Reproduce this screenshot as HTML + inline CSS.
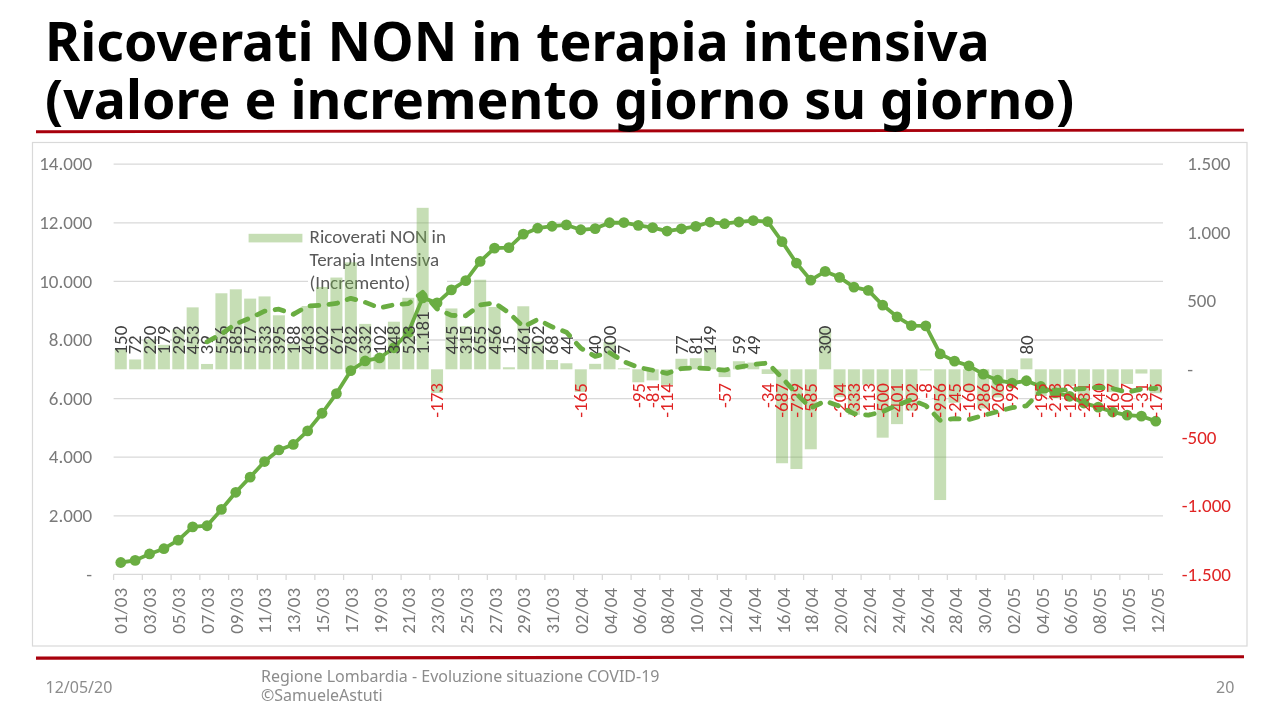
<!DOCTYPE html>
<html><head><meta charset="utf-8"><title>Ricoverati NON in terapia intensiva</title>
<style>
html,body{margin:0;padding:0;background:#fff}
svg text{font-variant-ligatures:none;font-feature-settings:'liga' 0}
#s{position:relative;width:1280px;height:720px;overflow:hidden;background:#fff}
h1{position:absolute;left:45px;top:12.3px;margin:0;font:bold 53.7px/57.9px 'Noto Sans','Open Sans','Liberation Sans',sans-serif;color:#000;white-space:nowrap;letter-spacing:0}
.f{position:absolute;font-family:'Noto Sans','Open Sans','Liberation Sans',sans-serif;font-size:16px;color:#8c8c8c;white-space:nowrap}
</style></head><body><div id="s">
<svg width="1280" height="720" viewBox="0 0 1280 720" style="position:absolute;left:0;top:0;will-change:transform">
<rect x="32.5" y="142.5" width="1214.5" height="503.5" fill="#fff" stroke="#d9d9d9" stroke-width="1.2"/>
<line x1="113.6" y1="515.8" x2="1163.0" y2="515.8" stroke="#d9d9d9" stroke-width="1.3"/>
<line x1="113.6" y1="457.2" x2="1163.0" y2="457.2" stroke="#d9d9d9" stroke-width="1.3"/>
<line x1="113.6" y1="398.6" x2="1163.0" y2="398.6" stroke="#d9d9d9" stroke-width="1.3"/>
<line x1="113.6" y1="340.0" x2="1163.0" y2="340.0" stroke="#d9d9d9" stroke-width="1.3"/>
<line x1="113.6" y1="281.4" x2="1163.0" y2="281.4" stroke="#d9d9d9" stroke-width="1.3"/>
<line x1="113.6" y1="222.8" x2="1163.0" y2="222.8" stroke="#d9d9d9" stroke-width="1.3"/>
<line x1="113.6" y1="164.2" x2="1163.0" y2="164.2" stroke="#d9d9d9" stroke-width="1.3"/>
<line x1="113.6" y1="574.4" x2="1163.0" y2="574.4" stroke="#d9d9d9" stroke-width="1.3"/>
<line x1="113.60" y1="574.4" x2="113.60" y2="580.0" stroke="#d9d9d9" stroke-width="1.3"/>
<line x1="142.35" y1="574.4" x2="142.35" y2="580.0" stroke="#d9d9d9" stroke-width="1.3"/>
<line x1="171.10" y1="574.4" x2="171.10" y2="580.0" stroke="#d9d9d9" stroke-width="1.3"/>
<line x1="199.85" y1="574.4" x2="199.85" y2="580.0" stroke="#d9d9d9" stroke-width="1.3"/>
<line x1="228.60" y1="574.4" x2="228.60" y2="580.0" stroke="#d9d9d9" stroke-width="1.3"/>
<line x1="257.35" y1="574.4" x2="257.35" y2="580.0" stroke="#d9d9d9" stroke-width="1.3"/>
<line x1="286.10" y1="574.4" x2="286.10" y2="580.0" stroke="#d9d9d9" stroke-width="1.3"/>
<line x1="314.85" y1="574.4" x2="314.85" y2="580.0" stroke="#d9d9d9" stroke-width="1.3"/>
<line x1="343.60" y1="574.4" x2="343.60" y2="580.0" stroke="#d9d9d9" stroke-width="1.3"/>
<line x1="372.35" y1="574.4" x2="372.35" y2="580.0" stroke="#d9d9d9" stroke-width="1.3"/>
<line x1="401.10" y1="574.4" x2="401.10" y2="580.0" stroke="#d9d9d9" stroke-width="1.3"/>
<line x1="429.85" y1="574.4" x2="429.85" y2="580.0" stroke="#d9d9d9" stroke-width="1.3"/>
<line x1="458.60" y1="574.4" x2="458.60" y2="580.0" stroke="#d9d9d9" stroke-width="1.3"/>
<line x1="487.35" y1="574.4" x2="487.35" y2="580.0" stroke="#d9d9d9" stroke-width="1.3"/>
<line x1="516.10" y1="574.4" x2="516.10" y2="580.0" stroke="#d9d9d9" stroke-width="1.3"/>
<line x1="544.85" y1="574.4" x2="544.85" y2="580.0" stroke="#d9d9d9" stroke-width="1.3"/>
<line x1="573.60" y1="574.4" x2="573.60" y2="580.0" stroke="#d9d9d9" stroke-width="1.3"/>
<line x1="602.35" y1="574.4" x2="602.35" y2="580.0" stroke="#d9d9d9" stroke-width="1.3"/>
<line x1="631.10" y1="574.4" x2="631.10" y2="580.0" stroke="#d9d9d9" stroke-width="1.3"/>
<line x1="659.85" y1="574.4" x2="659.85" y2="580.0" stroke="#d9d9d9" stroke-width="1.3"/>
<line x1="688.60" y1="574.4" x2="688.60" y2="580.0" stroke="#d9d9d9" stroke-width="1.3"/>
<line x1="717.35" y1="574.4" x2="717.35" y2="580.0" stroke="#d9d9d9" stroke-width="1.3"/>
<line x1="746.10" y1="574.4" x2="746.10" y2="580.0" stroke="#d9d9d9" stroke-width="1.3"/>
<line x1="774.85" y1="574.4" x2="774.85" y2="580.0" stroke="#d9d9d9" stroke-width="1.3"/>
<line x1="803.60" y1="574.4" x2="803.60" y2="580.0" stroke="#d9d9d9" stroke-width="1.3"/>
<line x1="832.35" y1="574.4" x2="832.35" y2="580.0" stroke="#d9d9d9" stroke-width="1.3"/>
<line x1="861.10" y1="574.4" x2="861.10" y2="580.0" stroke="#d9d9d9" stroke-width="1.3"/>
<line x1="889.85" y1="574.4" x2="889.85" y2="580.0" stroke="#d9d9d9" stroke-width="1.3"/>
<line x1="918.60" y1="574.4" x2="918.60" y2="580.0" stroke="#d9d9d9" stroke-width="1.3"/>
<line x1="947.35" y1="574.4" x2="947.35" y2="580.0" stroke="#d9d9d9" stroke-width="1.3"/>
<line x1="976.10" y1="574.4" x2="976.10" y2="580.0" stroke="#d9d9d9" stroke-width="1.3"/>
<line x1="1004.85" y1="574.4" x2="1004.85" y2="580.0" stroke="#d9d9d9" stroke-width="1.3"/>
<line x1="1033.60" y1="574.4" x2="1033.60" y2="580.0" stroke="#d9d9d9" stroke-width="1.3"/>
<line x1="1062.35" y1="574.4" x2="1062.35" y2="580.0" stroke="#d9d9d9" stroke-width="1.3"/>
<line x1="1091.10" y1="574.4" x2="1091.10" y2="580.0" stroke="#d9d9d9" stroke-width="1.3"/>
<line x1="1119.85" y1="574.4" x2="1119.85" y2="580.0" stroke="#d9d9d9" stroke-width="1.3"/>
<line x1="1148.60" y1="574.4" x2="1148.60" y2="580.0" stroke="#d9d9d9" stroke-width="1.3"/>
<rect x="308" y="229" width="139" height="65" fill="#fff"/>
<g font-family="Carlito, 'Liberation Sans', sans-serif" font-size="19" fill="#595959" letter-spacing="0">
<text x="309.6" y="243.2">Ricoverati NON in</text>
<text x="309.6" y="266">Terapia Intensiva</text>
<text x="309.6" y="288.7">(Incremento)</text>
</g>
<g fill="#fff">
<rect x="114.79" y="325.20" width="12" height="30.40"/>
<rect x="129.16" y="334.83" width="12" height="20.77"/>
<rect x="143.54" y="325.20" width="12" height="30.40"/>
<rect x="157.91" y="325.20" width="12" height="30.40"/>
<rect x="172.29" y="325.20" width="12" height="30.40"/>
<rect x="186.66" y="325.20" width="12" height="30.40"/>
<rect x="201.04" y="334.83" width="12" height="20.77"/>
<rect x="215.41" y="325.20" width="12" height="30.40"/>
<rect x="229.79" y="325.20" width="12" height="30.40"/>
<rect x="244.16" y="325.20" width="12" height="30.40"/>
<rect x="258.54" y="325.20" width="12" height="30.40"/>
<rect x="272.91" y="325.20" width="12" height="30.40"/>
<rect x="287.29" y="325.20" width="12" height="30.40"/>
<rect x="301.66" y="325.20" width="12" height="30.40"/>
<rect x="316.04" y="325.20" width="12" height="30.40"/>
<rect x="330.41" y="325.20" width="12" height="30.40"/>
<rect x="344.79" y="325.20" width="12" height="30.40"/>
<rect x="359.16" y="325.20" width="12" height="30.40"/>
<rect x="373.54" y="325.20" width="12" height="30.40"/>
<rect x="387.91" y="325.20" width="12" height="30.40"/>
<rect x="402.29" y="325.20" width="12" height="30.40"/>
<rect x="416.66" y="310.78" width="12" height="44.82"/>
<rect x="431.04" y="382.00" width="12" height="36.21"/>
<rect x="445.41" y="325.20" width="12" height="30.40"/>
<rect x="459.79" y="325.20" width="12" height="30.40"/>
<rect x="474.16" y="325.20" width="12" height="30.40"/>
<rect x="488.54" y="325.20" width="12" height="30.40"/>
<rect x="502.91" y="334.83" width="12" height="20.77"/>
<rect x="517.29" y="325.20" width="12" height="30.40"/>
<rect x="531.66" y="325.20" width="12" height="30.40"/>
<rect x="546.04" y="334.83" width="12" height="20.77"/>
<rect x="560.41" y="334.83" width="12" height="20.77"/>
<rect x="574.79" y="382.00" width="12" height="36.21"/>
<rect x="589.16" y="334.83" width="12" height="20.77"/>
<rect x="603.54" y="325.20" width="12" height="30.40"/>
<rect x="617.91" y="344.47" width="12" height="11.13"/>
<rect x="632.29" y="382.00" width="12" height="26.58"/>
<rect x="646.66" y="382.00" width="12" height="26.58"/>
<rect x="661.04" y="382.00" width="12" height="36.21"/>
<rect x="675.41" y="334.83" width="12" height="20.77"/>
<rect x="689.79" y="334.83" width="12" height="20.77"/>
<rect x="704.16" y="325.20" width="12" height="30.40"/>
<rect x="718.54" y="382.00" width="12" height="26.58"/>
<rect x="732.91" y="334.83" width="12" height="20.77"/>
<rect x="747.29" y="334.83" width="12" height="20.77"/>
<rect x="761.66" y="382.00" width="12" height="26.58"/>
<rect x="776.04" y="382.00" width="12" height="36.21"/>
<rect x="790.41" y="382.00" width="12" height="36.21"/>
<rect x="804.79" y="382.00" width="12" height="36.21"/>
<rect x="819.16" y="325.20" width="12" height="30.40"/>
<rect x="833.54" y="382.00" width="12" height="36.21"/>
<rect x="847.91" y="382.00" width="12" height="36.21"/>
<rect x="862.29" y="382.00" width="12" height="36.21"/>
<rect x="876.66" y="382.00" width="12" height="36.21"/>
<rect x="891.04" y="382.00" width="12" height="36.21"/>
<rect x="905.41" y="382.00" width="12" height="36.21"/>
<rect x="919.79" y="382.00" width="12" height="16.95"/>
<rect x="934.16" y="382.00" width="12" height="36.21"/>
<rect x="948.54" y="382.00" width="12" height="36.21"/>
<rect x="962.91" y="382.00" width="12" height="36.21"/>
<rect x="977.29" y="382.00" width="12" height="36.21"/>
<rect x="991.66" y="382.00" width="12" height="36.21"/>
<rect x="1006.04" y="382.00" width="12" height="26.58"/>
<rect x="1020.41" y="334.83" width="12" height="20.77"/>
<rect x="1034.79" y="382.00" width="12" height="36.21"/>
<rect x="1049.16" y="382.00" width="12" height="36.21"/>
<rect x="1063.54" y="382.00" width="12" height="36.21"/>
<rect x="1077.91" y="382.00" width="12" height="36.21"/>
<rect x="1092.29" y="382.00" width="12" height="36.21"/>
<rect x="1106.66" y="382.00" width="12" height="36.21"/>
<rect x="1121.04" y="382.00" width="12" height="36.21"/>
<rect x="1135.41" y="382.00" width="12" height="26.58"/>
<rect x="1149.79" y="382.00" width="12" height="36.21"/>
</g>
<g fill="#70ad47" fill-opacity="0.4">
<rect x="248.6" y="233.8" width="53.8" height="8.6"/>
<rect x="114.79" y="348.79" width="12.0" height="20.51"/>
<rect x="129.16" y="359.46" width="12.0" height="9.84"/>
<rect x="143.54" y="339.22" width="12.0" height="30.08"/>
<rect x="157.91" y="344.82" width="12.0" height="24.48"/>
<rect x="172.29" y="329.37" width="12.0" height="39.93"/>
<rect x="186.66" y="307.36" width="12.0" height="61.94"/>
<rect x="201.04" y="363.97" width="12.0" height="5.33"/>
<rect x="215.41" y="293.28" width="12.0" height="76.02"/>
<rect x="229.79" y="289.31" width="12.0" height="79.99"/>
<rect x="244.16" y="298.61" width="12.0" height="70.69"/>
<rect x="258.54" y="296.42" width="12.0" height="72.88"/>
<rect x="272.91" y="315.29" width="12.0" height="54.01"/>
<rect x="287.29" y="343.59" width="12.0" height="25.71"/>
<rect x="301.66" y="305.99" width="12.0" height="63.31"/>
<rect x="316.04" y="286.99" width="12.0" height="82.31"/>
<rect x="330.41" y="277.55" width="12.0" height="91.75"/>
<rect x="344.79" y="262.37" width="12.0" height="106.93"/>
<rect x="359.16" y="323.90" width="12.0" height="45.40"/>
<rect x="373.54" y="355.35" width="12.0" height="13.95"/>
<rect x="387.91" y="321.72" width="12.0" height="47.58"/>
<rect x="402.29" y="297.79" width="12.0" height="71.51"/>
<rect x="416.66" y="207.82" width="12.0" height="161.48"/>
<rect x="431.04" y="369.30" width="12.0" height="23.65"/>
<rect x="445.41" y="308.45" width="12.0" height="60.85"/>
<rect x="459.79" y="326.23" width="12.0" height="43.07"/>
<rect x="474.16" y="279.74" width="12.0" height="89.56"/>
<rect x="488.54" y="306.95" width="12.0" height="62.35"/>
<rect x="502.91" y="367.25" width="12.0" height="2.05"/>
<rect x="517.29" y="306.27" width="12.0" height="63.03"/>
<rect x="531.66" y="341.68" width="12.0" height="27.62"/>
<rect x="546.04" y="360.00" width="12.0" height="9.30"/>
<rect x="560.41" y="363.28" width="12.0" height="6.02"/>
<rect x="574.79" y="369.30" width="12.0" height="22.56"/>
<rect x="589.16" y="363.83" width="12.0" height="5.47"/>
<rect x="603.54" y="341.95" width="12.0" height="27.35"/>
<rect x="617.91" y="368.34" width="12.0" height="0.96"/>
<rect x="632.29" y="369.30" width="12.0" height="12.99"/>
<rect x="646.66" y="369.30" width="12.0" height="11.08"/>
<rect x="661.04" y="369.30" width="12.0" height="15.59"/>
<rect x="675.41" y="358.77" width="12.0" height="10.53"/>
<rect x="689.79" y="358.22" width="12.0" height="11.08"/>
<rect x="704.16" y="348.93" width="12.0" height="20.37"/>
<rect x="718.54" y="369.30" width="12.0" height="7.79"/>
<rect x="732.91" y="361.23" width="12.0" height="8.07"/>
<rect x="747.29" y="362.60" width="12.0" height="6.70"/>
<rect x="761.66" y="369.30" width="12.0" height="4.65"/>
<rect x="776.04" y="369.30" width="12.0" height="93.94"/>
<rect x="790.41" y="369.30" width="12.0" height="99.68"/>
<rect x="804.79" y="369.30" width="12.0" height="79.99"/>
<rect x="819.16" y="328.28" width="12.0" height="41.02"/>
<rect x="833.54" y="369.30" width="12.0" height="27.89"/>
<rect x="847.91" y="369.30" width="12.0" height="45.53"/>
<rect x="862.29" y="369.30" width="12.0" height="15.45"/>
<rect x="876.66" y="369.30" width="12.0" height="68.37"/>
<rect x="891.04" y="369.30" width="12.0" height="54.83"/>
<rect x="905.41" y="369.30" width="12.0" height="41.29"/>
<rect x="919.79" y="369.30" width="12.0" height="1.09"/>
<rect x="934.16" y="369.30" width="12.0" height="130.72"/>
<rect x="948.54" y="369.30" width="12.0" height="33.50"/>
<rect x="962.91" y="369.30" width="12.0" height="21.88"/>
<rect x="977.29" y="369.30" width="12.0" height="39.11"/>
<rect x="991.66" y="369.30" width="12.0" height="28.17"/>
<rect x="1006.04" y="369.30" width="12.0" height="13.54"/>
<rect x="1020.41" y="358.36" width="12.0" height="10.94"/>
<rect x="1034.79" y="369.30" width="12.0" height="26.66"/>
<rect x="1049.16" y="369.30" width="12.0" height="29.12"/>
<rect x="1063.54" y="369.30" width="12.0" height="16.68"/>
<rect x="1077.91" y="369.30" width="12.0" height="31.59"/>
<rect x="1092.29" y="369.30" width="12.0" height="19.14"/>
<rect x="1106.66" y="369.30" width="12.0" height="22.83"/>
<rect x="1121.04" y="369.30" width="12.0" height="14.63"/>
<rect x="1135.41" y="369.30" width="12.0" height="4.24"/>
<rect x="1149.79" y="369.30" width="12.0" height="23.93"/>
</g>
<g opacity="1.0" fill="#6aad42">
<polyline points="120.79,562.50 135.16,560.39 149.54,553.95 163.91,548.70 178.29,540.15 192.66,526.88 207.04,525.73 221.41,509.44 235.79,492.30 250.16,477.15 264.54,461.54 278.91,449.96 293.29,444.45 307.66,430.89 322.04,413.25 336.41,393.59 350.79,370.68 365.16,360.95 379.54,357.96 393.91,347.76 408.29,332.44 422.66,297.84 437.04,302.91 451.41,289.87 465.79,280.64 480.16,261.45 494.54,248.09 508.91,247.65 523.29,234.14 537.66,228.22 552.04,226.23 566.41,224.94 580.79,229.77 595.16,228.60 609.54,222.74 623.91,222.54 638.29,225.32 652.66,227.69 667.04,231.03 681.41,228.78 695.79,226.40 710.16,222.04 724.54,223.71 738.91,221.98 753.29,220.54 767.66,221.54 782.04,241.67 796.41,263.03 810.79,280.17 825.16,271.38 839.54,277.36 853.91,287.11 868.29,290.42 882.66,305.07 897.04,316.82 911.41,325.67 925.79,325.91 940.16,353.92 954.54,361.10 968.91,365.78 983.29,374.16 997.66,380.20 1012.04,383.10 1026.41,380.76 1040.79,386.47 1055.16,392.71 1069.54,396.29 1083.91,403.05 1098.29,407.16 1112.66,412.05 1127.04,415.18 1141.41,416.09 1155.79,421.22" fill="none" stroke="#6aad42" stroke-width="3.8" stroke-linejoin="round"/>
<circle cx="120.79" cy="562.50" r="5.4"/>
<circle cx="135.16" cy="560.39" r="5.4"/>
<circle cx="149.54" cy="553.95" r="5.4"/>
<circle cx="163.91" cy="548.70" r="5.4"/>
<circle cx="178.29" cy="540.15" r="5.4"/>
<circle cx="192.66" cy="526.88" r="5.4"/>
<circle cx="207.04" cy="525.73" r="5.4"/>
<circle cx="221.41" cy="509.44" r="5.4"/>
<circle cx="235.79" cy="492.30" r="5.4"/>
<circle cx="250.16" cy="477.15" r="5.4"/>
<circle cx="264.54" cy="461.54" r="5.4"/>
<circle cx="278.91" cy="449.96" r="5.4"/>
<circle cx="293.29" cy="444.45" r="5.4"/>
<circle cx="307.66" cy="430.89" r="5.4"/>
<circle cx="322.04" cy="413.25" r="5.4"/>
<circle cx="336.41" cy="393.59" r="5.4"/>
<circle cx="350.79" cy="370.68" r="5.4"/>
<circle cx="365.16" cy="360.95" r="5.4"/>
<circle cx="379.54" cy="357.96" r="5.4"/>
<circle cx="393.91" cy="347.76" r="5.4"/>
<circle cx="408.29" cy="332.44" r="5.4"/>
<circle cx="422.66" cy="297.84" r="5.4"/>
<circle cx="437.04" cy="302.91" r="5.4"/>
<circle cx="451.41" cy="289.87" r="5.4"/>
<circle cx="465.79" cy="280.64" r="5.4"/>
<circle cx="480.16" cy="261.45" r="5.4"/>
<circle cx="494.54" cy="248.09" r="5.4"/>
<circle cx="508.91" cy="247.65" r="5.4"/>
<circle cx="523.29" cy="234.14" r="5.4"/>
<circle cx="537.66" cy="228.22" r="5.4"/>
<circle cx="552.04" cy="226.23" r="5.4"/>
<circle cx="566.41" cy="224.94" r="5.4"/>
<circle cx="580.79" cy="229.77" r="5.4"/>
<circle cx="595.16" cy="228.60" r="5.4"/>
<circle cx="609.54" cy="222.74" r="5.4"/>
<circle cx="623.91" cy="222.54" r="5.4"/>
<circle cx="638.29" cy="225.32" r="5.4"/>
<circle cx="652.66" cy="227.69" r="5.4"/>
<circle cx="667.04" cy="231.03" r="5.4"/>
<circle cx="681.41" cy="228.78" r="5.4"/>
<circle cx="695.79" cy="226.40" r="5.4"/>
<circle cx="710.16" cy="222.04" r="5.4"/>
<circle cx="724.54" cy="223.71" r="5.4"/>
<circle cx="738.91" cy="221.98" r="5.4"/>
<circle cx="753.29" cy="220.54" r="5.4"/>
<circle cx="767.66" cy="221.54" r="5.4"/>
<circle cx="782.04" cy="241.67" r="5.4"/>
<circle cx="796.41" cy="263.03" r="5.4"/>
<circle cx="810.79" cy="280.17" r="5.4"/>
<circle cx="825.16" cy="271.38" r="5.4"/>
<circle cx="839.54" cy="277.36" r="5.4"/>
<circle cx="853.91" cy="287.11" r="5.4"/>
<circle cx="868.29" cy="290.42" r="5.4"/>
<circle cx="882.66" cy="305.07" r="5.4"/>
<circle cx="897.04" cy="316.82" r="5.4"/>
<circle cx="911.41" cy="325.67" r="5.4"/>
<circle cx="925.79" cy="325.91" r="5.4"/>
<circle cx="940.16" cy="353.92" r="5.4"/>
<circle cx="954.54" cy="361.10" r="5.4"/>
<circle cx="968.91" cy="365.78" r="5.4"/>
<circle cx="983.29" cy="374.16" r="5.4"/>
<circle cx="997.66" cy="380.20" r="5.4"/>
<circle cx="1012.04" cy="383.10" r="5.4"/>
<circle cx="1026.41" cy="380.76" r="5.4"/>
<circle cx="1040.79" cy="386.47" r="5.4"/>
<circle cx="1055.16" cy="392.71" r="5.4"/>
<circle cx="1069.54" cy="396.29" r="5.4"/>
<circle cx="1083.91" cy="403.05" r="5.4"/>
<circle cx="1098.29" cy="407.16" r="5.4"/>
<circle cx="1112.66" cy="412.05" r="5.4"/>
<circle cx="1127.04" cy="415.18" r="5.4"/>
<circle cx="1141.41" cy="416.09" r="5.4"/>
<circle cx="1155.79" cy="421.22" r="5.4"/>
</g>
<g font-family="Carlito, 'Liberation Sans', sans-serif" font-size="19">
<text transform="translate(127.09,354.6) rotate(-90)" fill="#404040">150</text>
<text transform="translate(141.46,354.6) rotate(-90)" fill="#404040">72</text>
<text transform="translate(155.84,354.6) rotate(-90)" fill="#404040">220</text>
<text transform="translate(170.21,354.6) rotate(-90)" fill="#404040">179</text>
<text transform="translate(184.59,354.6) rotate(-90)" fill="#404040">292</text>
<text transform="translate(198.96,354.6) rotate(-90)" fill="#404040">453</text>
<text transform="translate(213.34,354.6) rotate(-90)" fill="#404040">39</text>
<text transform="translate(227.71,354.6) rotate(-90)" fill="#404040">556</text>
<text transform="translate(242.09,354.6) rotate(-90)" fill="#404040">585</text>
<text transform="translate(256.46,354.6) rotate(-90)" fill="#404040">517</text>
<text transform="translate(270.84,354.6) rotate(-90)" fill="#404040">533</text>
<text transform="translate(285.21,354.6) rotate(-90)" fill="#404040">395</text>
<text transform="translate(299.59,354.6) rotate(-90)" fill="#404040">188</text>
<text transform="translate(313.96,354.6) rotate(-90)" fill="#404040">463</text>
<text transform="translate(328.34,354.6) rotate(-90)" fill="#404040">602</text>
<text transform="translate(342.71,354.6) rotate(-90)" fill="#404040">671</text>
<text transform="translate(357.09,354.6) rotate(-90)" fill="#404040">782</text>
<text transform="translate(371.46,354.6) rotate(-90)" fill="#404040">332</text>
<text transform="translate(385.84,354.6) rotate(-90)" fill="#404040">102</text>
<text transform="translate(400.21,354.6) rotate(-90)" fill="#404040">348</text>
<text transform="translate(414.59,354.6) rotate(-90)" fill="#404040">523</text>
<text transform="translate(428.96,354.6) rotate(-90)" fill="#404040">1.181</text>
<text transform="translate(443.34,383.0) rotate(-90)" text-anchor="end" fill="#e02424">-173</text>
<text transform="translate(457.71,354.6) rotate(-90)" fill="#404040">445</text>
<text transform="translate(472.09,354.6) rotate(-90)" fill="#404040">315</text>
<text transform="translate(486.46,354.6) rotate(-90)" fill="#404040">655</text>
<text transform="translate(500.84,354.6) rotate(-90)" fill="#404040">456</text>
<text transform="translate(515.21,354.6) rotate(-90)" fill="#404040">15</text>
<text transform="translate(529.59,354.6) rotate(-90)" fill="#404040">461</text>
<text transform="translate(543.96,354.6) rotate(-90)" fill="#404040">202</text>
<text transform="translate(558.34,354.6) rotate(-90)" fill="#404040">68</text>
<text transform="translate(572.71,354.6) rotate(-90)" fill="#404040">44</text>
<text transform="translate(587.09,383.0) rotate(-90)" text-anchor="end" fill="#e02424">-165</text>
<text transform="translate(601.46,354.6) rotate(-90)" fill="#404040">40</text>
<text transform="translate(615.84,354.6) rotate(-90)" fill="#404040">200</text>
<text transform="translate(630.21,354.6) rotate(-90)" fill="#404040">7</text>
<text transform="translate(644.59,383.0) rotate(-90)" text-anchor="end" fill="#e02424">-95</text>
<text transform="translate(658.96,383.0) rotate(-90)" text-anchor="end" fill="#e02424">-81</text>
<text transform="translate(673.34,383.0) rotate(-90)" text-anchor="end" fill="#e02424">-114</text>
<text transform="translate(687.71,354.6) rotate(-90)" fill="#404040">77</text>
<text transform="translate(702.09,354.6) rotate(-90)" fill="#404040">81</text>
<text transform="translate(716.46,354.6) rotate(-90)" fill="#404040">149</text>
<text transform="translate(730.84,383.0) rotate(-90)" text-anchor="end" fill="#e02424">-57</text>
<text transform="translate(745.21,354.6) rotate(-90)" fill="#404040">59</text>
<text transform="translate(759.59,354.6) rotate(-90)" fill="#404040">49</text>
<text transform="translate(773.96,383.0) rotate(-90)" text-anchor="end" fill="#e02424">-34</text>
<text transform="translate(788.34,383.0) rotate(-90)" text-anchor="end" fill="#e02424">-687</text>
<text transform="translate(802.71,383.0) rotate(-90)" text-anchor="end" fill="#e02424">-729</text>
<text transform="translate(817.09,383.0) rotate(-90)" text-anchor="end" fill="#e02424">-585</text>
<text transform="translate(831.46,354.6) rotate(-90)" fill="#404040">300</text>
<text transform="translate(845.84,383.0) rotate(-90)" text-anchor="end" fill="#e02424">-204</text>
<text transform="translate(860.21,383.0) rotate(-90)" text-anchor="end" fill="#e02424">-333</text>
<text transform="translate(874.59,383.0) rotate(-90)" text-anchor="end" fill="#e02424">-113</text>
<text transform="translate(888.96,383.0) rotate(-90)" text-anchor="end" fill="#e02424">-500</text>
<text transform="translate(903.34,383.0) rotate(-90)" text-anchor="end" fill="#e02424">-401</text>
<text transform="translate(917.71,383.0) rotate(-90)" text-anchor="end" fill="#e02424">-302</text>
<text transform="translate(932.09,383.0) rotate(-90)" text-anchor="end" fill="#e02424">-8</text>
<text transform="translate(946.46,383.0) rotate(-90)" text-anchor="end" fill="#e02424">-956</text>
<text transform="translate(960.84,383.0) rotate(-90)" text-anchor="end" fill="#e02424">-245</text>
<text transform="translate(975.21,383.0) rotate(-90)" text-anchor="end" fill="#e02424">-160</text>
<text transform="translate(989.59,383.0) rotate(-90)" text-anchor="end" fill="#e02424">-286</text>
<text transform="translate(1003.96,383.0) rotate(-90)" text-anchor="end" fill="#e02424">-206</text>
<text transform="translate(1018.34,383.0) rotate(-90)" text-anchor="end" fill="#e02424">-99</text>
<text transform="translate(1032.71,354.6) rotate(-90)" fill="#404040">80</text>
<text transform="translate(1047.09,383.0) rotate(-90)" text-anchor="end" fill="#e02424">-195</text>
<text transform="translate(1061.46,383.0) rotate(-90)" text-anchor="end" fill="#e02424">-213</text>
<text transform="translate(1075.84,383.0) rotate(-90)" text-anchor="end" fill="#e02424">-122</text>
<text transform="translate(1090.21,383.0) rotate(-90)" text-anchor="end" fill="#e02424">-231</text>
<text transform="translate(1104.59,383.0) rotate(-90)" text-anchor="end" fill="#e02424">-140</text>
<text transform="translate(1118.96,383.0) rotate(-90)" text-anchor="end" fill="#e02424">-167</text>
<text transform="translate(1133.34,383.0) rotate(-90)" text-anchor="end" fill="#e02424">-107</text>
<text transform="translate(1147.71,383.0) rotate(-90)" text-anchor="end" fill="#e02424">-31</text>
<text transform="translate(1162.09,383.0) rotate(-90)" text-anchor="end" fill="#e02424">-175</text>
</g>
<polyline points="207.04,341.86 221.41,333.93 235.79,323.90 250.16,318.10 264.54,311.19 278.91,309.18 293.29,314.35 307.66,306.07 322.04,305.17 336.41,303.49 350.79,298.32 365.16,302.24 379.54,307.97 393.91,304.84 408.29,303.67 422.66,292.36 437.04,308.84 451.41,315.43 465.79,315.76 480.16,304.96 494.54,302.85 508.91,312.77 523.29,326.83 537.66,319.51 552.04,326.87 566.41,332.17 580.79,348.18 595.16,356.31 609.54,352.70 623.91,361.56 638.29,367.37 652.66,370.28 667.04,373.36 681.41,368.64 695.79,367.84 710.16,368.83 724.54,370.08 738.91,367.07 753.29,364.53 767.66,362.97 782.04,377.89 796.41,393.72 810.79,408.05 825.16,401.08 839.54,406.22 853.91,413.68 868.29,415.22 882.66,411.57 897.04,405.16 911.41,399.64 925.79,405.65 940.16,420.34 954.54,418.62 968.91,419.54 983.29,415.36 997.66,411.55 1012.04,407.59 1026.41,405.87 1040.79,391.00 1055.16,390.38 1069.54,389.63 1083.91,388.56 1098.29,387.27 1112.66,388.60 1127.04,392.25 1141.41,389.05 1155.79,388.31" fill="none" stroke="#6aad42" stroke-opacity="1.0" stroke-width="4.8" stroke-dasharray="8.8 10.22" stroke-linecap="round" stroke-linejoin="round"/>
<g font-family="Carlito, 'Liberation Sans', sans-serif" font-size="19" fill="#7a7a7a">
<text x="92.2" y="580.6" text-anchor="end">-</text>
<text x="92.2" y="522.0" text-anchor="end">2.000</text>
<text x="92.2" y="463.4" text-anchor="end">4.000</text>
<text x="92.2" y="404.8" text-anchor="end">6.000</text>
<text x="92.2" y="346.2" text-anchor="end">8.000</text>
<text x="92.2" y="287.6" text-anchor="end">10.000</text>
<text x="92.2" y="229.0" text-anchor="end">12.000</text>
<text x="92.2" y="170.4" text-anchor="end">14.000</text>
<text x="1181.8" y="580.6" fill="#e02424">-1.500</text>
<text x="1181.8" y="512.2" fill="#e02424">-1.000</text>
<text x="1181.8" y="443.9" fill="#e02424">-500</text>
<text x="1187.2" y="375.5" fill="#7a7a7a">-</text>
<text x="1187.2" y="307.1" fill="#7a7a7a">500</text>
<text x="1187.2" y="238.8" fill="#7a7a7a">1.000</text>
<text x="1187.2" y="170.4" fill="#7a7a7a">1.500</text>
<text transform="translate(127.39,587.9) rotate(-90)" text-anchor="end">01/03</text>
<text transform="translate(156.18,587.9) rotate(-90)" text-anchor="end">03/03</text>
<text transform="translate(184.97,587.9) rotate(-90)" text-anchor="end">05/03</text>
<text transform="translate(213.76,587.9) rotate(-90)" text-anchor="end">07/03</text>
<text transform="translate(242.55,587.9) rotate(-90)" text-anchor="end">09/03</text>
<text transform="translate(271.34,587.9) rotate(-90)" text-anchor="end">11/03</text>
<text transform="translate(300.13,587.9) rotate(-90)" text-anchor="end">13/03</text>
<text transform="translate(328.92,587.9) rotate(-90)" text-anchor="end">15/03</text>
<text transform="translate(357.71,587.9) rotate(-90)" text-anchor="end">17/03</text>
<text transform="translate(386.50,587.9) rotate(-90)" text-anchor="end">19/03</text>
<text transform="translate(415.29,587.9) rotate(-90)" text-anchor="end">21/03</text>
<text transform="translate(444.08,587.9) rotate(-90)" text-anchor="end">23/03</text>
<text transform="translate(472.87,587.9) rotate(-90)" text-anchor="end">25/03</text>
<text transform="translate(501.66,587.9) rotate(-90)" text-anchor="end">27/03</text>
<text transform="translate(530.45,587.9) rotate(-90)" text-anchor="end">29/03</text>
<text transform="translate(559.24,587.9) rotate(-90)" text-anchor="end">31/03</text>
<text transform="translate(588.03,587.9) rotate(-90)" text-anchor="end">02/04</text>
<text transform="translate(616.82,587.9) rotate(-90)" text-anchor="end">04/04</text>
<text transform="translate(645.61,587.9) rotate(-90)" text-anchor="end">06/04</text>
<text transform="translate(674.40,587.9) rotate(-90)" text-anchor="end">08/04</text>
<text transform="translate(703.19,587.9) rotate(-90)" text-anchor="end">10/04</text>
<text transform="translate(731.98,587.9) rotate(-90)" text-anchor="end">12/04</text>
<text transform="translate(760.77,587.9) rotate(-90)" text-anchor="end">14/04</text>
<text transform="translate(789.56,587.9) rotate(-90)" text-anchor="end">16/04</text>
<text transform="translate(818.35,587.9) rotate(-90)" text-anchor="end">18/04</text>
<text transform="translate(847.14,587.9) rotate(-90)" text-anchor="end">20/04</text>
<text transform="translate(875.93,587.9) rotate(-90)" text-anchor="end">22/04</text>
<text transform="translate(904.72,587.9) rotate(-90)" text-anchor="end">24/04</text>
<text transform="translate(933.51,587.9) rotate(-90)" text-anchor="end">26/04</text>
<text transform="translate(962.30,587.9) rotate(-90)" text-anchor="end">28/04</text>
<text transform="translate(991.09,587.9) rotate(-90)" text-anchor="end">30/04</text>
<text transform="translate(1019.88,587.9) rotate(-90)" text-anchor="end">02/05</text>
<text transform="translate(1048.67,587.9) rotate(-90)" text-anchor="end">04/05</text>
<text transform="translate(1077.46,587.9) rotate(-90)" text-anchor="end">06/05</text>
<text transform="translate(1106.25,587.9) rotate(-90)" text-anchor="end">08/05</text>
<text transform="translate(1135.04,587.9) rotate(-90)" text-anchor="end">10/05</text>
<text transform="translate(1163.83,587.9) rotate(-90)" text-anchor="end">12/05</text>
</g>
<line x1="36" y1="131.7" x2="1244" y2="130.1" stroke="#a8000c" stroke-width="2.9"/>
<line x1="36" y1="658.1" x2="1244" y2="656.8" stroke="#a8000c" stroke-width="3.1"/>
</svg>
<h1>Ricoverati NON in terapia intensiva<br>(valore e incremento giorno su giorno)</h1>
<div class="f" style="left:45.5px;top:675.5px">12/05/20</div>
<div class="f" style="left:261px;top:667px;line-height:18.8px">Regione Lombardia - Evoluzione situazione COVID-19<br>©SamueleAstuti</div>
<div class="f" style="left:1216px;top:675.5px">20</div>
</div></body></html>
